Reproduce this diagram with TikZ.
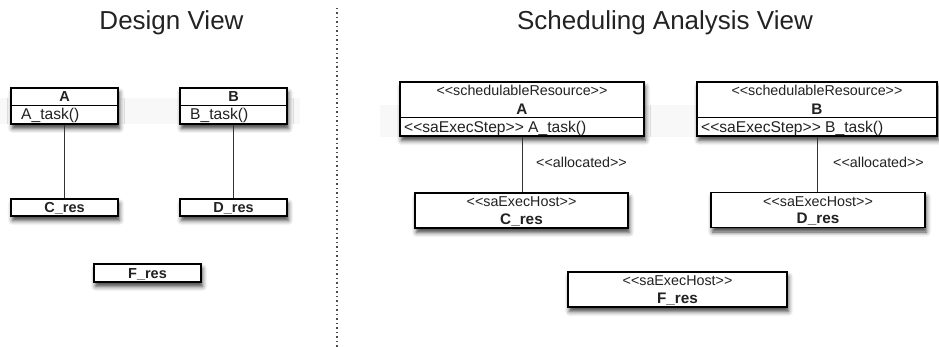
\documentclass[tikz,border=0pt]{standalone}
\usepackage{fontspec}
\setmainfont{Liberation Sans}
\usetikzlibrary{shadows.blur}
\definecolor{txt}{HTML}{222222}
\definecolor{ln}{HTML}{333333}
\definecolor{band}{HTML}{F8F8F8}
\begin{document}
\begin{tikzpicture}[x=1pt,y=-1pt,
  box/.style={draw=black, line width=1.3pt, fill=white, rectangle, inner sep=0pt,
    blur shadow={shadow xshift=1.5pt, shadow yshift=-4.5pt, shadow blur radius=4.5pt, shadow opacity=75}},
  title/.style={font=\fontsize{26}{29}\selectfont, text=txt, anchor=base, inner sep=0pt},
  st/.style={font=\fontsize{14.3}{16}\selectfont, text=txt, anchor=base, inner sep=0pt},
  nm/.style={font=\fontsize{15.3}{17}\selectfont\bfseries, text=txt, anchor=base, inner sep=0pt},
  nml/.style={font=\fontsize{14.5}{16}\selectfont\bfseries, text=txt, anchor=base, inner sep=0pt},
  bd/.style={font=\fontsize{15.6}{17}\selectfont, text=txt, anchor=base west, inner sep=0pt},
  conn/.style={draw=ln, line width=1pt},
  divider/.style={draw=black, line width=1pt},
]
\useasboundingbox (0,0) rectangle (939,347);

% faint background bands
\fill[band] (0,98) rectangle (300,124);
\fill[band] (380,105) rectangle (939,137);

% titles
\node[title] (t1) at (171.5,30) {Design View};
\node[title] (t2) at (665,30) {Scheduling Analysis View};

% separator
\coordinate (sep1) at (337,8);
\coordinate (sep2) at (337,347);
\draw[draw=gray!60!black, line width=1.3pt, dash pattern=on 1.3pt off 3.2pt] (sep1) -- (sep2);

% ---------- Design view ----------
\node[box, minimum width=107pt, minimum height=36pt] (dA) at (64.5,106) {};
\draw[divider] (dA.west) -- (dA.east);
\node[nml] (dAn) at (64.5,102) {A};
\node[bd] (dAt) at (21,119.5) {A\_task()};

\node[box, minimum width=107pt, minimum height=36pt] (dB) at (233.5,106) {};
\draw[divider] (dB.west) -- (dB.east);
\node[nml] (dBn) at (233.5,102) {B};
\node[bd] (dBt) at (190,119.5) {B\_task()};

\node[box, minimum width=107pt, minimum height=17pt] (dC) at (64.5,207.5) {};
\node[nml] (dCn) at (64.5,212.5) {C\_res};
\node[box, minimum width=107pt, minimum height=17pt] (dD) at (233.5,207.5) {};
\node[nml] (dDn) at (233.5,212.5) {D\_res};
\node[box, minimum width=107pt, minimum height=18pt] (dF) at (147.5,273) {};
\node[nml] (dFn) at (147.5,278) {F\_res};

\draw[conn] (dA.south) -- (dC.north);
\draw[conn] (dB.south) -- (dD.north);

% ---------- Scheduling analysis view ----------
\node[box, minimum width=244pt, minimum height=54pt] (sA) at (522,109) {};
\draw[divider] ([yshift=-9pt]sA.west) -- ([yshift=-9pt]sA.east);
\node[st] (sAs) at (522,96) {<{}<schedulableResource>{}>};
\node[nm] (sAn) at (522,114.5) {A};
\node[bd] (sAt) at (404,132.5) {<{}<saExecStep>{}> A\_task()};

\node[box, minimum width=240pt, minimum height=54pt] (sB) at (817,109) {};
\draw[divider] ([yshift=-9pt]sB.west) -- ([yshift=-9pt]sB.east);
\node[st] (sBs) at (817,96) {<{}<schedulableResource>{}>};
\node[nm] (sBn) at (817,114.5) {B};
\node[bd] (sBt) at (701,132.5) {<{}<saExecStep>{}> B\_task()};

\node[box, minimum width=213pt, minimum height=35pt] (sC) at (521.5,210.5) {};
\node[st] (sCs) at (521.5,207) {<{}<saExecHost>{}>};
\node[nm] (sCn) at (521.5,224.5) {C\_res};

\node[box, minimum width=214pt, minimum height=35pt] (sD) at (818,210) {};
\node[st] (sDs) at (818,206.5) {<{}<saExecHost>{}>};
\node[nm] (sDn) at (818,224) {D\_res};

\node[box, minimum width=219pt, minimum height=35pt] (sF) at (677.5,289.5) {};
\node[st] (sFs) at (677.5,285.5) {<{}<saExecHost>{}>};
\node[nm] (sFn) at (677.5,303) {F\_res};

\draw[conn] (sA.south) -- (sA.south |- sC.north);
\draw[conn] (sB.south) -- (sB.south |- sD.north);
\node[st, anchor=base west] (al1) at (536,168) {<{}<allocated>{}>};
\node[st, anchor=base west] (al2) at (833,168) {<{}<allocated>{}>};
\end{tikzpicture}
\end{document}
